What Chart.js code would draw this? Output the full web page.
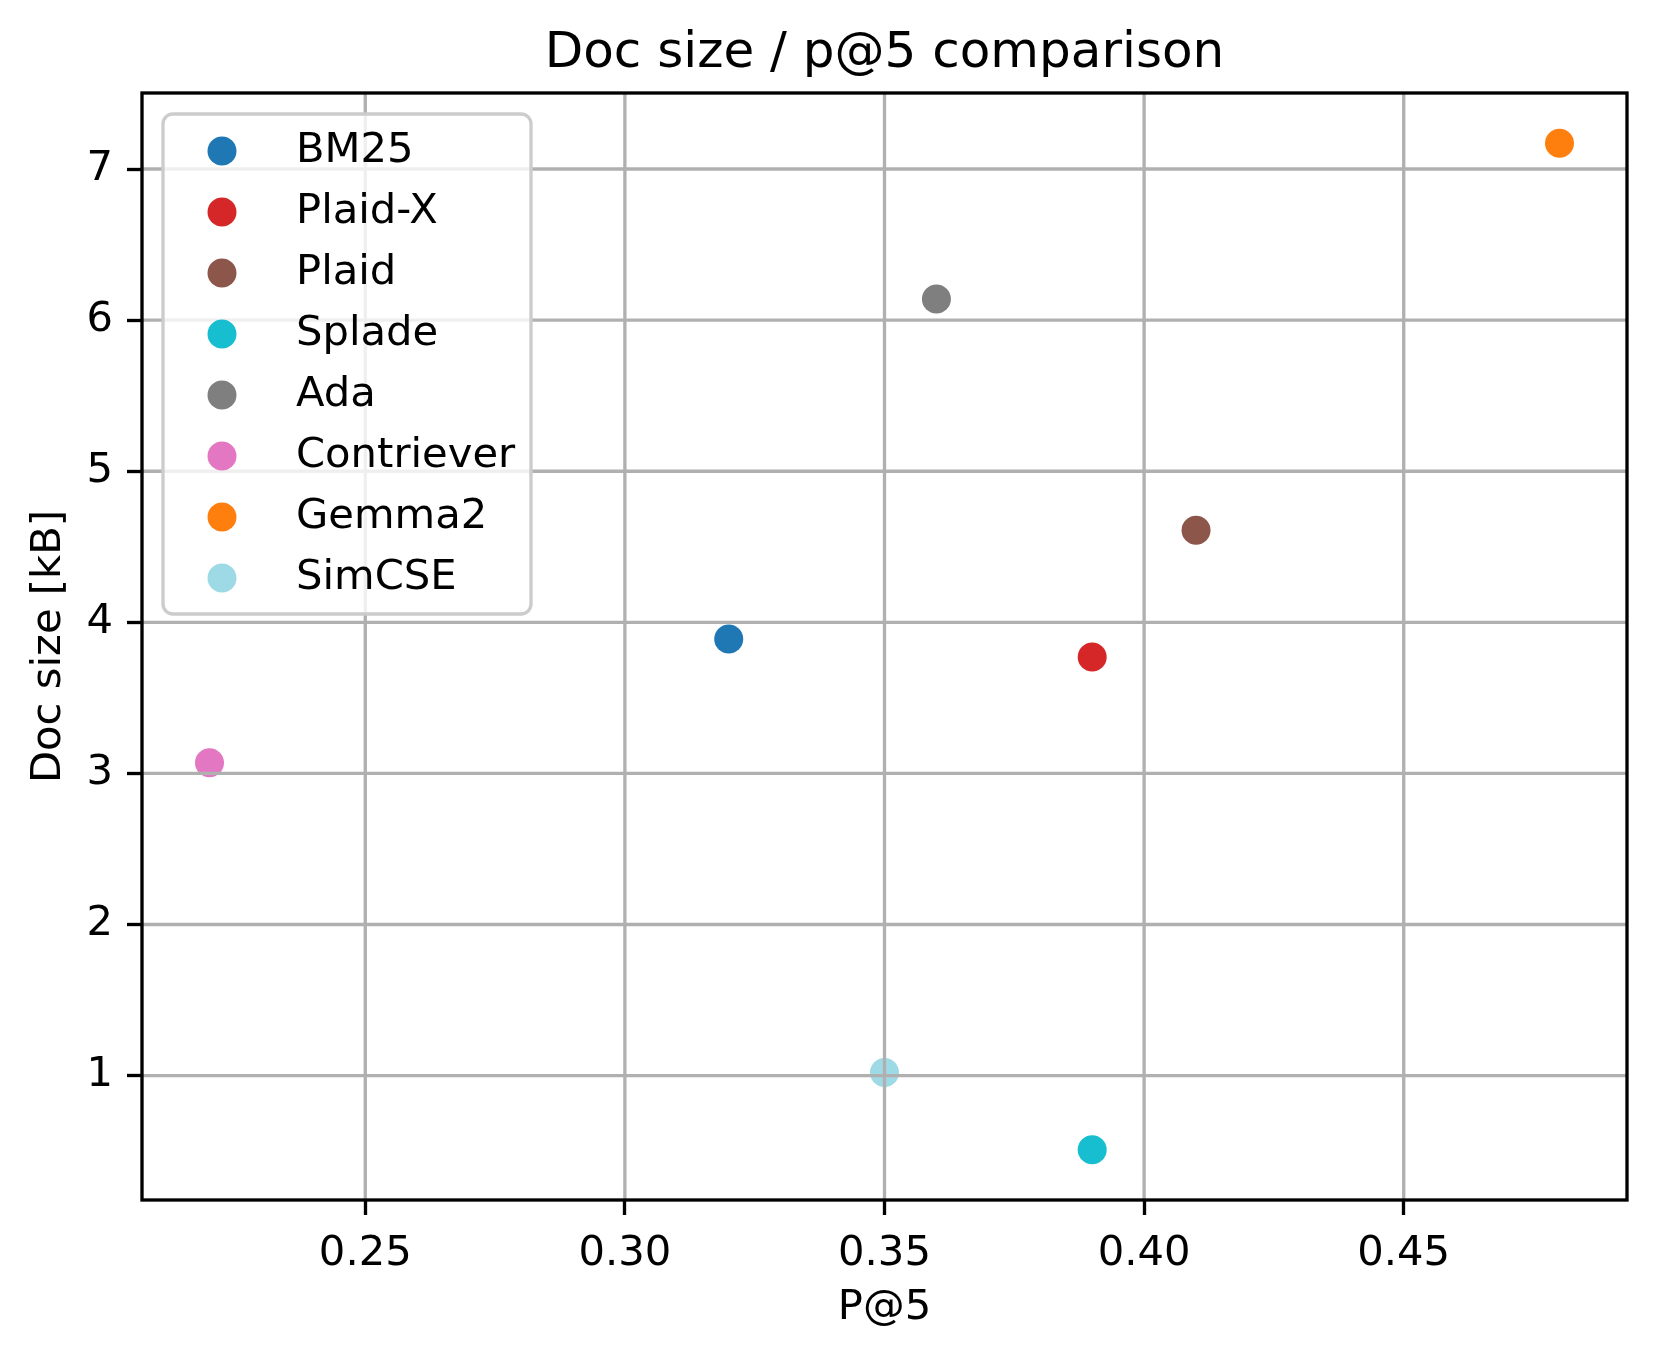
<!DOCTYPE html>
<html>
<head>
<meta charset="utf-8">
<script src="https://cdn.jsdelivr.net/npm/chart.js@4.4.1/dist/chart.umd.min.js"></script>
<style>
  html, body { margin: 0; padding: 0; background: #fff; }
  #wrap { width: 1659px; height: 1357px; }
</style>
</head>
<body>
<div id="wrap"><canvas id="chart" width="1659" height="1357" style="width:1659px;height:1357px"></canvas></div>
<script>
// data
const models = ['BM25', 'Plaid-X', 'Plaid', 'Splade', 'Ada', 'Contriever', 'Gemma2', 'SimCSE'];
const p5 = [0.32, 0.39, 0.41, 0.39, 0.36, 0.22, 0.48, 0.35];
const docSize = [3.89, 3.77, 4.61, 0.51, 6.14, 3.07, 7.17, 1.02];
const xTicks = [0.25, 0.30, 0.35, 0.40, 0.45];
const yTicks = [1, 2, 3, 4, 5, 6, 7];

const colors = ['#1f77b4', '#d62728', '#8c564b', '#17becf', '#7f7f7f', '#e377c2', '#ff7f0e', '#9edae5'];

const FONT = '"DejaVu Sans", "Liberation Sans", sans-serif';
const LW = 3.33;       // 0.8pt at 300dpi
const GRID = '#b0b0b0';

// matplotlib style 5% margins
function padRange(vals) {
    const lo = Math.min(...vals), hi = Math.max(...vals);
    const m = (hi - lo) * 0.05;
    return [lo - m, hi + m];
}
const [xMin, xMax] = padRange(p5);
const [yMin, yMax] = padRange(docSize);

const datasets = models.map((name, i) => ({
    label: name,
    data: [{ x: p5[i], y: docSize[i] }],
    backgroundColor: colors[i],
    borderWidth: 0,
    pointRadius: 14.5,
    pointHoverRadius: 14.5
}));

const decor = {
    id: 'decor',
    afterDatasetsDraw(chart) {
        const ctx = chart.ctx;
        const a = chart.chartArea;
        const sx = chart.scales.x, sy = chart.scales.y;
        ctx.save();
        // grid goes over the markers, like in the original
        ctx.strokeStyle = GRID;
        ctx.lineWidth = LW;
        xTicks.forEach(v => {
            const px = sx.getPixelForValue(v);
            ctx.beginPath(); ctx.moveTo(px, a.top); ctx.lineTo(px, a.bottom); ctx.stroke();
        });
        yTicks.forEach(v => {
            const py = sy.getPixelForValue(v);
            ctx.beginPath(); ctx.moveTo(a.left, py); ctx.lineTo(a.right, py); ctx.stroke();
        });
        // spines
        ctx.strokeStyle = '#000';
        ctx.strokeRect(a.left, a.top, a.right - a.left, a.bottom - a.top);

        // title
        ctx.fillStyle = '#000';
        ctx.font = '50px ' + FONT;
        ctx.textAlign = 'center';
        ctx.textBaseline = 'middle';
        ctx.fillText('Doc size / p@5 comparison', (a.left + a.right) / 2, 54);

        // legend
        const bx = a.left + 21, by = a.top + 21, bw = 368, bh = 500, r = 10;
        ctx.beginPath();
        ctx.roundRect(bx, by, bw, bh, r);
        ctx.fillStyle = 'rgba(255,255,255,0.8)';
        ctx.fill();
        ctx.strokeStyle = '#cccccc';
        ctx.lineWidth = LW;
        ctx.stroke();

        ctx.font = '41.7px ' + FONT;
        ctx.textAlign = 'left';
        chart.data.datasets.forEach((ds, i) => {
            const rowY = by + 37 + i * 61;
            ctx.beginPath();
            ctx.arc(bx + 59, rowY, 14.5, 0, Math.PI * 2);
            ctx.fillStyle = ds.backgroundColor;
            ctx.fill();
            ctx.fillStyle = '#000';
            ctx.fillText(ds.label, bx + 133, rowY);
        });
        ctx.restore();
    }
};

new Chart(document.getElementById('chart'), {
    type: 'scatter',
    data: { datasets },
    options: {
        responsive: false,
        animation: false,
        layout: { padding: { top: 93, right: 32, left: 0, bottom: 0 } },
        plugins: { legend: { display: false }, tooltip: { enabled: false }, title: { display: false } },
        scales: {
            x: {
                type: 'linear',
                min: xMin,
                max: xMax,
                afterBuildTicks: s => { s.ticks = xTicks.map(v => ({ value: v })); },
                afterFit: s => { s.height = 157; },
                grid: { drawOnChartArea: false, tickLength: 15, tickColor: '#000', tickWidth: LW },
                border: { display: false },
                ticks: {
                    color: '#000',
                    padding: 14,
                    maxRotation: 0,
                    font: { family: FONT, size: 41.7 },
                    callback: v => v.toFixed(2)
                },
                title: {
                    display: true,
                    text: 'P@5',
                    color: '#000',
                    font: { family: FONT, size: 41.7 },
                    padding: { top: 0, bottom: 24 }
                }
            },
            y: {
                type: 'linear',
                min: yMin,
                max: yMax,
                afterBuildTicks: s => { s.ticks = yTicks.map(v => ({ value: v })); },
                afterFit: s => { s.width = 142; },
                grid: { drawOnChartArea: false, tickLength: 15, tickColor: '#000', tickWidth: LW },
                border: { display: false },
                ticks: {
                    color: '#000',
                    padding: 14,
                    font: { family: FONT, size: 41.7 },
                    callback: v => String(v)
                },
                title: {
                    display: true,
                    text: 'Doc size [kB]',
                    color: '#000',
                    font: { family: FONT, size: 41.7 },
                    padding: { top: 24, bottom: 0 }
                }
            }
        }
    },
    plugins: [decor]
});
</script>
</body>
</html>
